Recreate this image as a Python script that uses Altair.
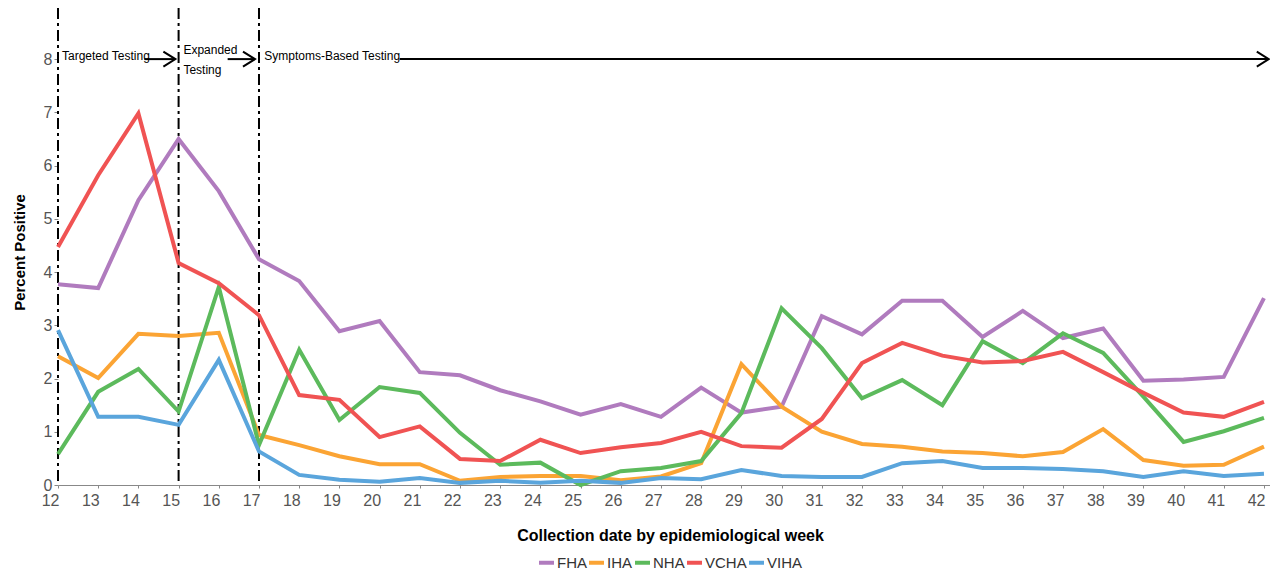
import altair as alt
import pandas as pd

weeks = list(range(12, 43))
FHA = [3.77, 3.70, 5.35, 6.50, 5.52, 4.24, 3.83, 2.89, 3.08, 2.12, 2.06, 1.78, 1.57, 1.32, 1.52, 1.28, 1.83,
       1.36, 1.47, 3.17, 2.83, 3.46, 3.46, 2.78, 3.27, 2.76, 2.94, 1.96, 1.98, 2.03, 3.51]
IHA = [2.42, 2.01, 2.84, 2.80, 2.86, 0.94, 0.75, 0.54, 0.39, 0.39, 0.08, 0.15, 0.17, 0.17, 0.09, 0.16, 0.41,
       2.27, 1.47, 1.00, 0.77, 0.72, 0.63, 0.60, 0.54, 0.62, 1.05, 0.47, 0.36, 0.38, 0.72]
NHA = [0.58, 1.75, 2.18, 1.38, 3.72, 0.75, 2.54, 1.22, 1.84, 1.73, 0.98, 0.38, 0.42, 0.00, 0.26, 0.32, 0.45,
       1.35, 3.32, 2.57, 1.63, 1.97, 1.50, 2.70, 2.29, 2.85, 2.48, 1.66, 0.81, 1.01, 1.26]
VCHA = [4.47, 5.82, 6.98, 4.17, 3.79, 3.19, 1.69, 1.60, 0.90, 1.10, 0.49, 0.45, 0.85, 0.60, 0.71, 0.79, 1.00,
        0.73, 0.70, 1.24, 2.29, 2.67, 2.43, 2.30, 2.33, 2.50, 2.12, 1.73, 1.36, 1.28, 1.56]
VIHA = [2.91, 1.28, 1.28, 1.13, 2.35, 0.63, 0.19, 0.10, 0.06, 0.13, 0.04, 0.08, 0.04, 0.08, 0.04, 0.13, 0.11,
        0.28, 0.17, 0.15, 0.15, 0.41, 0.45, 0.32, 0.32, 0.30, 0.26, 0.15, 0.26, 0.17, 0.21]

regions = ["FHA", "IHA", "NHA", "VCHA", "VIHA"]
colors = ["#B07BBE", "#FBA434", "#5CBA5C", "#F05353", "#5AA5DC"]

# phase boundaries and annotations
phase_weeks = [12, 15, 17]
ann_text = ["Targeted Testing", "Expanded\nTesting", "Symptoms-Based Testing"]
ann_x = [12.1, 15.12, 17.13]
ann_y = [8.06, 8.17, 8.06]
arrow_x1 = [14.15, 16.22, 20.5]
arrow_x2 = [14.92, 16.9, 42.12]
arrow_y = [8.0, 8.0, 8.0]

series = {"FHA": FHA, "IHA": IHA, "NHA": NHA, "VCHA": VCHA, "VIHA": VIHA}
rows = []
for r in regions:
    for w, v in zip(weeks, series[r]):
        rows.append({"week": w, "value": v, "region": r})
df = pd.DataFrame(rows)

xscale = alt.Scale(domain=[12, 42.15], nice=False, zero=False)
yscale = alt.Scale(domain=[0, 8.96], nice=False)

lines = alt.Chart(df).mark_line(strokeWidth=4, strokeJoin="miter").encode(
    x=alt.X("week:Q", scale=xscale,
            axis=alt.Axis(values=weeks, title="Collection date by epidemiological week",
                          labelFontSize=16, labelColor="#555", labelFont="Liberation Sans",
                          labelFlush=False, labelOverlap=False, labelAlign="right", labelOffset=1,
                          titleFont="Liberation Sans", titleFontSize=16, titleFontWeight="bold",
                          titleColor="#000", titlePadding=19, titleX=612, grid=False,
                          domainColor="#888", tickColor="#888", tickSize=3, labelPadding=4)),
    y=alt.Y("value:Q", scale=yscale,
            axis=alt.Axis(values=list(range(0, 9)), title="Percent Positive",
                          labelFontSize=16, labelColor="#555", labelFont="Liberation Sans",
                          labelFlush=False,
                          titleFont="Liberation Sans", titleFontSize=15, titleFontWeight="bold",
                          titleColor="#000", titlePadding=16, titleY=244, grid=False, domain=False,
                          tickColor="#888", tickSize=4, labelPadding=2)),
    color=alt.Color("region:N", scale=alt.Scale(domain=regions, range=colors),
                    legend=alt.Legend(title=None, orient="none", direction="horizontal",
                                      legendX=479, legendY=545, symbolType="stroke",
                                      symbolStrokeWidth=4, symbolSize=225,
                                      labelFontSize=15, labelFont="Liberation Sans",
                                      labelColor="#333", labelOffset=1, columnPadding=-7,
                                      symbolOffset=0, padding=0)),
)

vdf = pd.DataFrame({"week": phase_weeks})
vlines = alt.Chart(vdf).mark_rule(color="black", strokeWidth=2, strokeDash=[11, 4, 3, 4]).encode(
    x=alt.X("week:Q", scale=xscale)
)

adf = pd.DataFrame({"text": ann_text, "x": ann_x, "y": ann_y})
texts = alt.Chart(adf).mark_text(align="left", baseline="middle", fontSize=12,
                                 font="Liberation Sans", color="black", lineBreak="\n",
                                 lineHeight=20).encode(
    x=alt.X("x:Q", scale=xscale), y=alt.Y("y:Q", scale=yscale), text="text:N"
)

ardf = pd.DataFrame({"x1": arrow_x1, "x2": arrow_x2, "y": arrow_y})
shafts = alt.Chart(ardf).mark_rule(color="black", strokeWidth=2).encode(
    x=alt.X("x1:Q", scale=xscale), x2="x2:Q", y=alt.Y("y:Q", scale=yscale)
)
heads = alt.Chart(ardf).mark_point(shape="M-1.6,-1L0,0L-1.6,1", filled=False, color="black",
                                   strokeWidth=2, size=225, opacity=1).encode(
    x=alt.X("x2:Q", scale=xscale), y=alt.Y("y:Q", scale=yscale)
)

chart = alt.layer(vlines, lines, shafts, heads, texts).properties(
    width=1212, height=477,
    autosize=alt.AutoSizeParams(type="none"),
    padding={"left": 50, "top": 0, "right": 0, "bottom": 86},
).configure_view(stroke=None)

chart.save("out.html", embed_options={"renderer": "svg", "actions": False})
